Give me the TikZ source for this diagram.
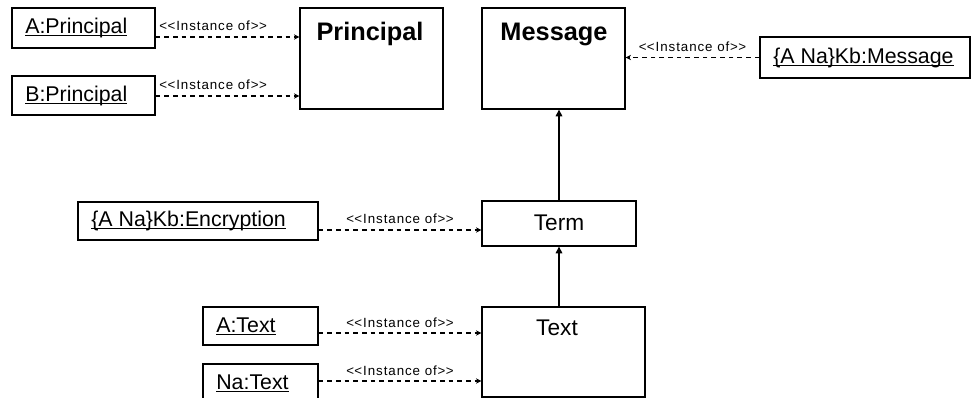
\documentclass[tikz,border=0pt]{standalone}
\usepackage{fontspec}
\setmainfont{Liberation Sans}
\usetikzlibrary{calc}
\usetikzlibrary{arrows.meta}
\tikzset{
    clsbox/.style={draw, line width=1pt, inner sep=0pt},
    clsname/.style={font=\fontsize{19}{22}\selectfont\bfseries},
    clstext/.style={font=\fontsize{17}{20}\selectfont},
    objbox/.style={draw, line width=1pt, inner sep=0pt, font=\fontsize{16}{18}\selectfont},
    isa/.style={line width=0.8pt, -{Triangle[length=5pt,width=5pt]}},
    instof/.style={line width=0.8pt, dash pattern=on 3.5pt off 3pt, -{Stealth[length=4pt,width=4pt]}},
    instlbl/.style={font=\fontsize{10}{12}\selectfont\addfontfeatures{LetterSpace=7}, inner sep=1pt, above=3pt}
}
% kerns keep the brackets from turning into guillemets
\newcommand{\stereo}{<\kern0.3pt<Instance of>\kern0.3pt>}
% underline sitting just under the baseline
\newcommand{\objname}[1]{\setbox0\hbox{#1}\rlap{\rule[-2pt]{\wd0}{0.7pt}}\box0}

\begin{document}
\begin{tikzpicture}[x=0.75pt,y=-0.75pt]
\useasboundingbox (0,0) rectangle (971,398);
% classes
\node[clsbox, minimum width=107.25pt, minimum height=75.75pt] (principal) at (371.5,58.5) {};
\node[clsname] (principalname) at (370,34) {Principal};
\node[clsbox, minimum width=107.25pt, minimum height=75.75pt] (message) at (553.5,58.5) {};
\node[clsname] (messagename) at (554,34) {Message};
\node[clsbox, minimum width=115.5pt, minimum height=33.75pt] (term) at (559,223.5) {};
\node[clstext] (termname) at (559,223) {Term};
\node[clsbox, minimum width=122.25pt, minimum height=67.5pt] (text) at (563.5,352) {};
\node[clstext] (textname) at (557,328) {Text};
% instances, names flush left
\foreach \n/\x/\y/\w/\h/\t in {aprin/83.5/28/107.25/30/{A:Principal}, bprin/83.5/95.5/107.25/29.25/{B:Principal}, akbmsg/865/57.5/157.5/30.75/{\{A Na\}Kb:Message}, encr/198/221/180/28.5/{\{A Na\}Kb:Encryption}, atext/260.5/326/86.25/28.5/{A:Text}, natext/260.5/383/86.25/28.5/{Na:Text}}{
    \node[objbox, minimum width=\w pt, minimum height=\h pt] (\n) at (\x,\y) {\makebox[\dimexpr\w pt-20pt\relax][l]{\objname{\t}}};
}
% instance-of links
\foreach \src/\dst/\dy/\p in {aprin/principal/9/0.4, bprin/principal/0.5/0.4, encr/term/9/0.5, atext/text/7/0.5, natext/text/-2/0.5}{
    \draw[instof] ($(\src.east)+(0,\dy)$) -- ($(\src.east -| \dst.west)+(0,\dy)$) node[instlbl, pos=\p] (\src lbl) {\stereo};
}
\draw[instof] (akbmsg.west) -- (akbmsg.west -| message.east) node[instlbl, midway] (akbmsglbl) {\stereo};
% generalisation
\draw[isa] (term.north) -- (term.north |- message.south);
\draw[isa] (term.south |- text.north) -- (term.south);
\end{tikzpicture}
\end{document}
